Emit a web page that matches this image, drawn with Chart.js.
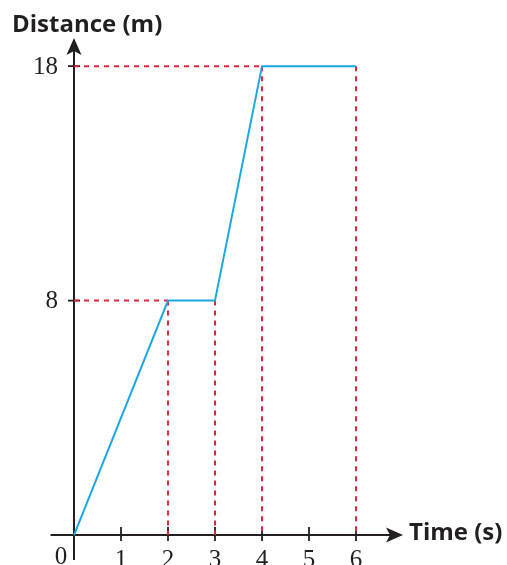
<!DOCTYPE html>
<html><head><meta charset="utf-8">
<script src="https://cdn.jsdelivr.net/npm/chart.js@4.4.1/dist/chart.umd.min.js"></script>
<style>html,body{margin:0;padding:0;background:#fff;}canvas{display:block;}</style>
</head><body>
<canvas id="c" width="507" height="565"></canvas>
<script>
// ---- data ----
const times = [0, 2, 3, 4, 6];          // s
const distances = [0, 8, 8, 18, 18];    // m
const xTicks = [1, 2, 3, 4, 5, 6];
const yTicks = [0, 8, 18];              // axis drawn with these evenly spaced (as in the original)
const xTitle = 'Time (s)';
const yTitle = 'Distance (m)';

// scale whose tick values are evenly spaced (piecewise linear between yTicks)
class BrokenScale extends Chart.LinearScale {
  static id = 'broken';
  static defaults = Chart.LinearScale.defaults;
  _map(v) {
    const b = yTicks, n = b.length;
    let i = 0;
    while (i < n - 2 && v > b[i + 1]) i++;
    return i + (v - b[i]) / (b[i + 1] - b[i]);
  }
  _unmap(t) {
    const b = yTicks, n = b.length;
    let i = Math.max(0, Math.min(n - 2, Math.floor(t)));
    return b[i] + (t - i) * (b[i + 1] - b[i]);
  }
  getPixelForValue(value) {
    const a = this._map(this.min), c = this._map(this.max);
    return this.getPixelForDecimal((this._map(value) - a) / (c - a));
  }
  getValueForPixel(pixel) {
    const a = this._map(this.min), c = this._map(this.max);
    return this._unmap(a + this.getDecimalForPixel(pixel) * (c - a));
  }
}
Chart.register(BrokenScale);

const mainData = times.map((t, i) => ({x: t, y: distances[i]}));
const guideData = [];
for (let i = 1; i < times.length; i++) {
  guideData.push({x: times[i], y: distances[i]}, {x: times[i], y: 0}, {x: times[i], y: null});
}
yTicks.slice(1).forEach(level => {
  const k = distances.indexOf(level);
  if (k >= 0) guideData.push({x: 0, y: level}, {x: times[k], y: level}, {x: times[k], y: null});
});

const INK = '#231f20';
const axesPlugin = {
  id: 'axes',
  beforeDatasetsDraw(chart) {
    const {ctx} = chart;
    const xs = chart.scales.x, ys = chart.scales.y;
    const x0 = xs.getPixelForValue(0), y0 = ys.getPixelForValue(0);
    const left = xs.left, right = xs.right, top = ys.top, bottom = ys.bottom;
    ctx.save();
    ctx.strokeStyle = INK; ctx.fillStyle = INK; ctx.lineWidth = 2;
    // x axis
    ctx.beginPath(); ctx.moveTo(left, y0); ctx.lineTo(right - 10, y0); ctx.stroke();
    ctx.beginPath(); ctx.moveTo(right, y0); ctx.lineTo(right - 17, y0 - 7.5); ctx.lineTo(right - 13, y0); ctx.lineTo(right - 17, y0 + 7.5); ctx.closePath(); ctx.fill();
    // y axis
    ctx.beginPath(); ctx.moveTo(x0, bottom); ctx.lineTo(x0, top + 10); ctx.stroke();
    ctx.beginPath(); ctx.moveTo(x0, top); ctx.lineTo(x0 - 7.5, top + 17); ctx.lineTo(x0, top + 13); ctx.lineTo(x0 + 7.5, top + 17); ctx.closePath(); ctx.fill();
    // ticks
    ctx.lineWidth = 1.8;
    xTicks.forEach(v => { const p = xs.getPixelForValue(v); ctx.beginPath(); ctx.moveTo(p, y0 - 8); ctx.lineTo(p, y0 + 6); ctx.stroke(); });
    yTicks.slice(1).forEach(v => { const p = ys.getPixelForValue(v); ctx.beginPath(); ctx.moveTo(x0 - 6, p); ctx.lineTo(x0 + 6, p); ctx.stroke(); });
    // tick labels
    ctx.font = '25px "Liberation Serif", "DejaVu Serif", serif';
    ctx.textAlign = 'center'; ctx.textBaseline = 'alphabetic';
    xTicks.forEach(v => ctx.fillText(String(v), xs.getPixelForValue(v), 567));
    ctx.fillText('0', x0 - 13, 564);
    ctx.textAlign = 'right'; ctx.textBaseline = 'middle';
    yTicks.slice(1).forEach(v => ctx.fillText(String(v), x0 - 16, ys.getPixelForValue(v) + 1));
    // titles
    ctx.font = 'bold 24px "Open Sans", Lato, sans-serif';
    ctx.textAlign = 'left'; ctx.textBaseline = 'alphabetic';
    ctx.fillText(yTitle, 12, 32);
    ctx.fillText(xTitle, right + 6, y0 + 5);
    ctx.restore();
  }
};

new Chart(document.getElementById('c'), {
  type: 'line',
  data: {
    datasets: [
      {data: mainData, borderColor: '#1ba7e2', borderWidth: 2, pointRadius: 0, tension: 0, fill: false},
      {data: guideData, borderColor: '#e0263a', borderWidth: 2, borderDash: [5, 5], pointRadius: 0, spanGaps: false, fill: false}
    ]
  },
  options: {
    responsive: false, animation: false, events: [],
    layout: {padding: {left: 50.5, right: 104, top: 38, bottom: 5}},
    plugins: {legend: {display: false}, tooltip: {enabled: false}, title: {display: false}},
    scales: {
      x: {type: 'linear', min: -0.5, max: 7, display: false},
      y: {type: 'broken', min: -0.85, max: 19.2, display: false}
    }
  },
  plugins: [axesPlugin]
});
</script>
</body></html>
